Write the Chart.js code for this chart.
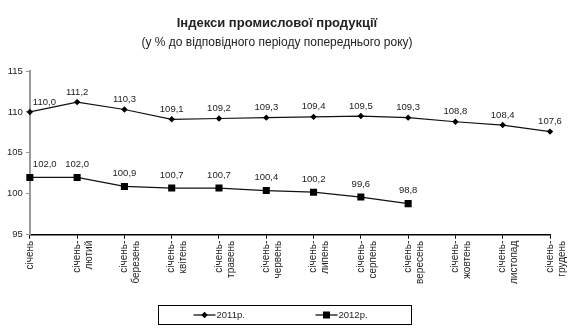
<!DOCTYPE html>
<html lang="uk">
<head>
<meta charset="utf-8">
<style>
  html, body { margin: 0; padding: 0; background: #fff; }
  #wrap { width: 569px; height: 331px; }
</style>
<script src="https://cdn.jsdelivr.net/npm/chart.js@4.4.1/dist/chart.umd.min.js"></script>
</head>
<body>
<div id="wrap"><canvas id="indexChart"></canvas></div>
<script>
const FONT = 'Arial, "Liberation Sans", sans-serif';

// наростаючим підсумком з початку року
const periods = [
  ['січень'],
  ['січень-', 'лютий'],
  ['січень-', 'березень'],
  ['січень-', 'квітень'],
  ['січень-', 'травень'],
  ['січень-', 'червень'],
  ['січень-', 'липень'],
  ['січень-', 'серпень'],
  ['січень-', 'вересень'],
  ['січень-', 'жовтень'],
  ['січень-', 'листопад'],
  ['січень-', 'грудень']
];
const index2011 = [110.0, 111.2, 110.3, 109.1, 109.2, 109.3, 109.4, 109.5, 109.3, 108.8, 108.4, 107.6];
const index2012 = [102.0, 102.0, 100.9, 100.7, 100.7, 100.4, 100.2, 99.6, 98.8, null, null, null];
const yTicks = [95, 100, 105, 110, 115];

// малює значення над кожною точкою, з десятковою комою
const valueLabels = {
  id: 'valueLabels',
  afterDatasetsDraw(chart) {
    const ctx = chart.ctx;
    ctx.save();
    ctx.font = '9.5px ' + FONT;
    ctx.fillStyle = '#222';
    ctx.textBaseline = 'middle';
    chart.data.datasets.forEach((ds, i) => {
      chart.getDatasetMeta(i).data.forEach((pt, j) => {
        const v = ds.data[j];
        if (v == null) return;
        const text = v.toFixed(1).replace('.', ',');
        let x = pt.x;
        ctx.textAlign = 'center';
        if (j === 0) { ctx.textAlign = 'left'; x += 3; }
        ctx.fillText(text, x, pt.y - ds.labelGap);
      });
    });
    ctx.restore();
  }
};

// легенда в рамці під графіком
function drawMarker(ctx, style, x, y) {
  ctx.beginPath();
  if (style === 'rect') {
    ctx.rect(x - 3.5, y - 3.5, 7, 7);
  } else {
    ctx.moveTo(x, y - 3.2);
    ctx.lineTo(x + 3.2, y);
    ctx.lineTo(x, y + 3.2);
    ctx.lineTo(x - 3.2, y);
    ctx.closePath();
  }
  ctx.fill();
}

const boxedLegend = {
  id: 'boxedLegend',
  afterDraw(chart) {
    const ctx = chart.ctx;
    const boxW = 253, boxH = 19;
    const left = Math.round((chart.width - boxW) / 2) + 0.5;
    const top = 305.5;
    ctx.save();
    ctx.strokeStyle = '#000';
    ctx.lineWidth = 1;
    ctx.strokeRect(left, top, boxW, boxH);
    ctx.font = '9.5px ' + FONT;
    ctx.textBaseline = 'middle';
    ctx.textAlign = 'left';
    const cy = top + boxH / 2;
    const starts = [left + 35, left + 157];
    chart.data.datasets.forEach((ds, i) => {
      const x = starts[i];
      ctx.strokeStyle = '#000';
      ctx.lineWidth = 1.2;
      ctx.beginPath();
      ctx.moveTo(x, cy);
      ctx.lineTo(x + 22, cy);
      ctx.stroke();
      ctx.fillStyle = '#000';
      drawMarker(ctx, ds.pointStyle, x + 11, cy);
      ctx.fillStyle = '#222';
      ctx.fillText(ds.label, x + 23, cy + 0.5);
    });
    ctx.restore();
  }
};

new Chart(document.getElementById('indexChart'), {
  type: 'line',
  data: {
    labels: periods,
    datasets: [
      {
        label: '2011р.',
        data: index2011,
        borderColor: '#111',
        backgroundColor: '#000',
        borderWidth: 1.2,
        pointStyle: 'rectRot',
        pointRadius: 3.2,
        pointBorderWidth: 0,
        tension: 0,
        labelGap: 10
      },
      {
        label: '2012р.',
        data: index2012,
        borderColor: '#111',
        backgroundColor: '#000',
        borderWidth: 1.2,
        pointStyle: 'rect',
        pointRadius: 5,
        pointBorderWidth: 0,
        tension: 0,
        labelGap: 13
      }
    ]
  },
  options: {
    responsive: true,
    maintainAspectRatio: false,
    animation: false,
    layout: { padding: { left: 4, right: 19, bottom: 45 } },
    plugins: {
      legend: { display: false },
      tooltip: { enabled: false },
      title: {
        display: true,
        text: 'Індекси промислової продукції',
        color: '#222',
        font: { family: FONT, size: 13, weight: 'bold' },
        padding: { top: 16, bottom: 0 }
      },
      subtitle: {
        display: true,
        text: '(у % до відповідного періоду попереднього року)',
        color: '#222',
        font: { family: FONT, size: 12 },
        padding: { top: 4, bottom: 21 }
      }
    },
    scales: {
      x: {
        offset: false,
        // підписи останньої точки не повинні стискати область графіка
        afterFit(scale) {
          scale.paddingRight = 0;
        },
        grid: { display: true, drawOnChartArea: false, drawTicks: true, tickLength: 4, color: '#000' },
        border: { color: '#000', width: 1.5 },
        ticks: {
          color: '#222',
          font: { family: FONT, size: 10 },
          maxRotation: 90,
          minRotation: 90,
          autoSkip: false,
          padding: 2
        }
      },
      y: {
        min: 95,
        max: 115,
        afterBuildTicks(scale) {
          scale.ticks = yTicks.map(v => ({ value: v }));
        },
        grid: { display: true, drawOnChartArea: false, drawTicks: true, tickLength: 4, color: '#999' },
        border: { color: '#999', width: 2 },
        ticks: {
          color: '#222',
          font: { family: FONT, size: 9.5 },
          padding: 3
        }
      }
    }
  },
  plugins: [valueLabels, boxedLegend]
});
</script>
</body>
</html>
